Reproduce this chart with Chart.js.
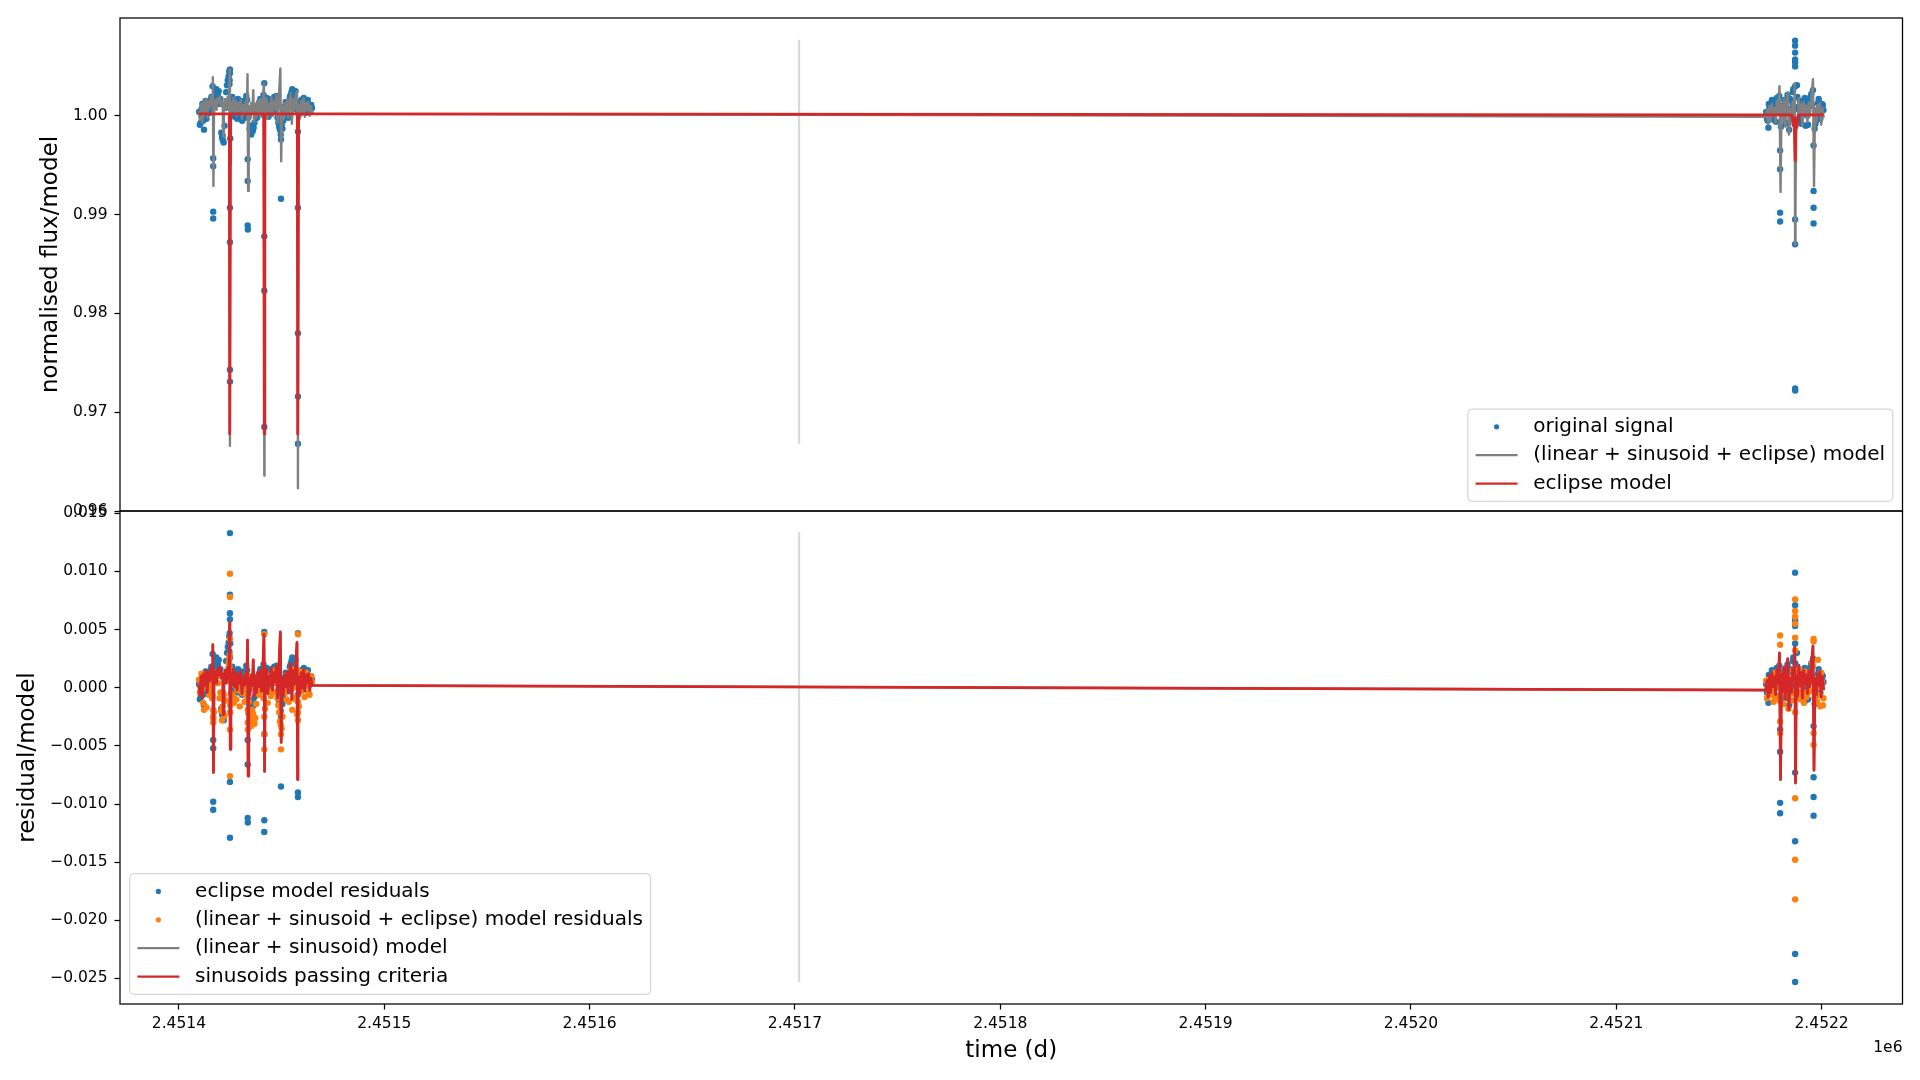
<!DOCTYPE html>
<html>
<head>
<meta charset="utf-8">
<script src="https://cdn.jsdelivr.net/npm/chart.js@4.4.1/dist/chart.umd.min.js"></script>
<style>
html, body { margin: 0; padding: 0; background: #fff; }
#wrap { position: relative; width: 1920px; height: 1080px; background: #fff; overflow: hidden; }
canvas { position: absolute; left: 0; }
#cTop { top: 0; }
#cBot { top: 480px; }
</style>
</head>
<body>
<div id="wrap">
  <canvas id="cBot" width="1920" height="600"></canvas>
  <canvas id="cTop" width="1920" height="540"></canvas>
</div>
<script>
// ---------------- DATA ----------------
// time origin (d); all time arrays below are days after T0
const T0 = 2451400;

// observation times (left cluster, left outliers, right cluster, right outliers, extra left, extra right)
const obsTime = [
  9.8, 10.6, 11.4, 12.2, 13.0, 13.8, 14.6, 15.4, 16.2, 17.0,
  17.8, 18.6, 19.4, 20.2, 21.0, 21.8, 22.6, 23.4, 24.2, 25.2,
  26.0, 26.8, 27.6, 28.4, 29.2, 30.0, 30.8, 31.6, 32.4, 33.2,
  34.0, 34.8, 35.6, 36.4, 37.2, 38.0, 38.8, 39.6, 40.4, 41.2,
  42.0, 42.8, 43.6, 44.4, 45.2, 46.0, 46.8, 47.6, 48.4, 49.2,
  50.0, 50.8, 51.6, 52.4, 53.2, 54.0, 54.8, 55.6, 56.4, 57.2,
  58.4, 59.2, 60.0, 60.8, 61.6, 62.4, 63.2, 64.0, 64.8,
  16.7, 16.7, 16.7, 16.7, 21.4, 24.6, 24.7, 24.84, 24.84, 24.84,
  24.84, 24.84, 24.84, 24.9, 25.0, 33.5, 33.5, 33.5, 33.55, 41.57,
  41.57, 41.57, 41.57, 49.7, 49.7, 57.96, 57.96, 57.96, 57.96, 57.96,
  773.0, 773.8, 774.6, 775.4, 776.2, 777.0, 777.8, 778.6, 779.4, 780.2,
  781.0, 781.8, 782.6, 783.4, 784.2, 785.0, 785.8, 786.6, 787.8, 788.6,
  789.4, 790.2, 791.0, 791.8, 792.6, 793.4, 794.2, 795.0, 795.8, 796.6,
  797.4, 798.2, 799.0, 799.8, 800.6,
  774.1, 779.8, 779.8, 779.8, 779.8, 786.0, 787.1, 787.1, 787.1, 787.1,
  787.1, 787.1, 787.1, 787.1, 787.1, 787.1, 787.15, 788.0, 792.2, 796.1,
  796.1, 796.1, 796.1,
  10.2, 11.0, 11.8, 12.6, 13.4, 14.2, 15.0, 15.8, 16.4, 17.4,
  18.2, 19.0, 19.8, 20.6, 21.3, 22.2, 23.0, 23.8, 24.5, 25.6,
  26.4, 27.2, 28.0, 28.8, 29.6, 30.4, 31.2, 32.0, 32.8, 33.8,
  34.4, 35.2, 36.0, 36.8, 37.6, 38.4, 39.2, 40.0, 40.8, 41.9,
  42.4, 43.2, 44.0, 44.8, 45.6, 46.4, 47.2, 48.0, 48.8, 49.6,
  50.4, 51.2, 52.0, 52.8, 53.6, 54.4, 55.2, 56.0, 56.8, 57.6,
  58.8, 59.6, 60.4, 61.2, 62.0, 62.8, 63.6, 64.4,
  773.4, 774.3, 775.0, 775.8, 776.6, 777.4, 778.2, 779.0, 780.6, 781.4,
  782.2, 783.0, 783.8, 784.6, 785.4, 786.2, 788.2, 789.0, 789.8, 790.6,
  791.4, 792.4, 793.0, 793.8, 794.6, 795.4, 797.0, 797.8, 798.6, 799.4,
  800.2, 800.9
];
// original signal (normalised flux)
const obsFlux = [
  1.0004, 0.9993, 1.0012, 0.9986, 1.0015, 1.0002, 1.0011, 1.0016, 1.0006, 1.0014,
  1.0022, 1.0019, 1.0025, 1.0017, 0.9978, 0.9973, 1.0008, 1.0031, 1.0040, 1.0012,
  1.0019, 1.0004, 1.0015, 0.9997, 1.0010, 1.0014, 0.9995, 1.0009, 1.0013, 1.0016,
  0.9999, 0.9990, 0.9984, 0.9988, 1.0006, 0.9998, 1.0012, 1.0017, 1.0003, 1.0021,
  1.0009, 1.0018, 0.9999, 1.0008, 1.0017, 1.0005, 1.0013, 1.0020, 0.9993, 0.9986,
  0.9991, 0.9995, 1.0010, 1.0004, 0.9998, 1.0019, 1.0024, 1.0016, 1.0022, 1.0014,
  1.0010, 1.0005, 1.0013, 1.0018, 1.0007, 1.0012, 1.0009, 1.0004, 1.0008,
  0.9957, 0.9949, 0.9903, 0.9896, 0.9975, 1.0032, 1.0036, 1.0047, 1.0043, 0.9907,
  0.9872, 0.9743, 0.9731, 1.0018, 0.9977, 0.9956, 0.9934, 0.9889, 0.9885, 1.0033,
  0.9878, 0.9823, 0.9685, 0.9976, 0.9916, 0.9984, 0.9907, 0.9780, 0.9716, 0.9668,
  1.0004, 0.9995, 1.0008, 0.9998, 1.0011, 1.0003, 0.9994, 1.0014, 1.0020, 0.9989,
  1.0006, 1.0016, 0.9993, 1.0021, 0.9986, 1.0007, 1.0013, 0.9996, 0.9994, 1.0009,
  1.0015, 0.9992, 1.0012, 1.0018, 1.0004, 0.9991, 1.0010, 1.0022, 1.0026, 0.9987,
  0.9995, 1.0013, 1.0008, 1.0003, 1.0011,
  0.9988, 0.9965, 0.9946, 0.9902, 0.9893, 1.0024, 1.0076, 1.0071, 1.0064, 1.0057,
  1.0054, 1.0050, 1.0030, 0.9895, 0.9870, 0.9724, 0.9722, 1.0031, 0.9990, 0.9970,
  0.9924, 0.9907, 0.9891,
  0.9991, 1.0007, 0.9995, 1.0009, 0.9997, 1.0014, 1.0003, 1.0019, 1.0030, 1.0018,
  1.0027, 1.0021, 1.0012, 0.9983, 0.9980, 0.9990, 1.0024, 1.0036, 1.0045, 1.0006,
  1.0013, 0.9999, 1.0008, 1.0017, 1.0001, 1.0007, 1.0015, 0.9998, 1.0020, 1.0004,
  0.9987, 0.9981, 0.9985, 0.9993, 1.0010, 1.0004, 1.0014, 1.0008, 1.0016, 1.0003,
  1.0013, 1.0006, 1.0015, 1.0002, 1.0011, 1.0019, 1.0008, 0.9998, 0.9989, 0.9981,
  0.9987, 1.0003, 1.0014, 1.0001, 1.0012, 1.0021, 1.0027, 1.0018, 1.0025, 1.0006,
  1.0002, 1.0016, 1.0009, 1.0013, 1.0003, 1.0016, 1.0006, 1.0011,
  0.9997, 1.0012, 1.0001, 1.0016, 0.9996, 1.0009, 1.0018, 1.0005, 1.0010, 0.9999,
  1.0012, 1.0007, 0.9992, 1.0017, 1.0002, 1.0027, 1.0019, 1.0006, 0.9997, 1.0014,
  1.0003, 1.0016, 1.0000, 1.0013, 1.0019, 1.0011, 0.9992, 1.0006, 1.0017, 0.9997,
  1.0012, 1.0006
];
// eclipse model residuals
const eclipseResid = [
  0.0003, -0.0008, 0.0011, -0.0015, 0.0014, 0.0001, 0.0010, 0.0015, 0.0005, 0.0013,
  0.0021, 0.0018, 0.0024, 0.0016, -0.0023, -0.0028, 0.0007, 0.0030, 0.0039, 0.0010,
  0.0018, 0.0003, 0.0014, -0.0004, 0.0009, 0.0013, -0.0006, 0.0008, 0.0012, 0.0015,
  -0.0002, -0.0011, -0.0017, -0.0013, 0.0005, -0.0003, 0.0011, 0.0016, 0.0002, 0.0020,
  0.0008, 0.0017, -0.0002, 0.0007, 0.0016, 0.0004, 0.0012, 0.0019, -0.0008, -0.0015,
  -0.0010, -0.0006, 0.0009, 0.0003, -0.0003, 0.0018, 0.0023, 0.0015, 0.0021, 0.0013,
  0.0009, 0.0004, 0.0012, 0.0017, 0.0006, 0.0011, 0.0008, 0.0003, 0.0007,
  -0.0045, -0.0052, -0.0098, -0.0105, -0.0027, 0.0031, 0.0047, 0.0133, 0.0080, 0.0064,
  0.0059, -0.0081, -0.0129, 0.0026, 0.0038, -0.0045, -0.0066, -0.0112, -0.0116, 0.0048,
  -0.0114, -0.0124, -0.0040, -0.0025, -0.0085, 0.0047, -0.0090, -0.0094, 0.0012, -0.0006,
  0.0003, -0.0006, 0.0007, -0.0003, 0.0010, 0.0002, -0.0007, 0.0013, 0.0019, -0.0012,
  0.0005, 0.0015, -0.0008, 0.0020, -0.0015, 0.0006, 0.0012, 0.0011, 0.0004, 0.0008,
  0.0014, -0.0009, 0.0011, 0.0017, 0.0003, -0.0010, 0.0009, 0.0021, 0.0025, -0.0014,
  -0.0006, 0.0012, 0.0007, 0.0002, 0.0010,
  -0.0013, -0.0036, -0.0055, -0.0099, -0.0108, 0.0023, 0.0099, 0.0071, 0.0056, 0.0053,
  0.0058, -0.0073, 0.0038, -0.0132, -0.0229, -0.0253, 0.0021, 0.0030, -0.0011, -0.0033,
  -0.0077, -0.0094, -0.0110,
  -0.0010, 0.0006, -0.0006, 0.0008, -0.0004, 0.0013, 0.0002, 0.0018, 0.0029, 0.0017,
  0.0026, 0.0020, 0.0011, -0.0018, -0.0021, -0.0011, 0.0023, 0.0035, 0.0044, 0.0005,
  0.0012, -0.0002, 0.0007, 0.0016, 0.0000, 0.0006, 0.0014, -0.0003, 0.0019, 0.0003,
  -0.0014, -0.0020, -0.0016, -0.0008, 0.0009, 0.0003, 0.0013, 0.0007, 0.0015, 0.0002,
  0.0012, 0.0005, 0.0014, 0.0001, 0.0010, 0.0018, 0.0007, -0.0003, -0.0012, -0.0020,
  -0.0014, 0.0002, 0.0013, 0.0000, 0.0011, 0.0020, 0.0026, 0.0017, 0.0024, 0.0005,
  0.0001, 0.0015, 0.0008, 0.0012, 0.0002, 0.0015, 0.0005, 0.0010,
  -0.0004, 0.0011, 0.0000, 0.0015, -0.0005, 0.0008, 0.0017, 0.0004, 0.0009, -0.0002,
  0.0011, 0.0006, -0.0009, 0.0016, 0.0001, 0.0026, 0.0018, 0.0005, -0.0004, 0.0013,
  0.0002, 0.0015, -0.0001, 0.0012, 0.0018, 0.0010, -0.0009, 0.0005, 0.0016, -0.0004,
  0.0011, 0.0005
];
// (linear + sinusoid + eclipse) model residuals
const fullResid = [
  0.0007, 0.0002, -0.0001, -0.0019, 0.0003, 0.0008, -0.0006, -0.0002, -0.0009, -0.0021,
  0.0006, 0.0012, 0.0010, -0.0004, -0.0028, -0.0006, -0.0011, 0.0014, 0.0021, -0.0005,
  0.0006, -0.0013, 0.0002, -0.0002, 0.0005, -0.0003, 0.0001, 0.0002, 0.0000, 0.0011,
  -0.0012, -0.0024, -0.0019, -0.0030, -0.0026, 0.0001, -0.0004, 0.0001, 0.0005, -0.0009,
  0.0002, 0.0004, 0.0010, 0.0005, -0.0003, 0.0006, 0.0007, 0.0004, -0.0015, -0.0029,
  -0.0035, 0.0000, -0.0002, -0.0010, 0.0001, 0.0003, 0.0016, 0.0000, 0.0012, -0.0008,
  -0.0016, 0.0009, 0.0012, 0.0001, 0.0009, 0.0007, -0.0004, 0.0006, 0.0005,
  -0.0019, -0.0025, -0.0030, -0.0026, -0.0004, 0.0018, 0.0028, 0.0098, 0.0078, 0.0042,
  -0.0036, -0.0076, 0.0015, -0.0021, -0.0015, -0.0008, -0.0019, -0.0030, -0.0036, 0.0046,
  -0.0025, -0.0053, -0.0040, -0.0040, -0.0053, 0.0046, -0.0021, -0.0012, -0.0028, 0.0008,
  0.0006, 0.0002, -0.0004, 0.0001, -0.0003, -0.0007, 0.0000, 0.0009, -0.0011, 0.0006,
  0.0008, -0.0003, 0.0002, -0.0005, 0.0004, -0.0002, -0.0005, 0.0010, -0.0006, 0.0011,
  -0.0004, 0.0002, 0.0007, 0.0014, -0.0008, 0.0003, 0.0008, 0.0005, 0.0018, -0.0009,
  0.0000, 0.0024, -0.0006, 0.0013, -0.0015,
  -0.0006, 0.0045, 0.0037, -0.0029, -0.0039, 0.0009, 0.0076, 0.0066, 0.0043, 0.0061,
  0.0055, 0.0032, -0.0095, -0.0148, -0.0182, 0.0012, -0.0021, 0.0013, -0.0004, 0.0042,
  0.0040, -0.0039, -0.0049,
  -0.0004, 0.0012, -0.0013, 0.0005, -0.0017, 0.0001, -0.0004, 0.0003, -0.0007, 0.0008,
  0.0013, 0.0004, -0.0009, -0.0020, -0.0016, -0.0024, 0.0007, 0.0016, 0.0025, -0.0011,
  -0.0007, 0.0009, -0.0010, 0.0004, -0.0016, 0.0007, -0.0005, -0.0012, 0.0006, -0.0022,
  -0.0027, -0.0033, -0.0022, -0.0031, -0.0014, 0.0010, -0.0006, 0.0013, -0.0002, -0.0018,
  0.0009, -0.0013, 0.0003, -0.0007, 0.0012, -0.0004, 0.0015, -0.0009, -0.0021, -0.0032,
  -0.0025, 0.0006, -0.0004, 0.0011, -0.0012, 0.0008, -0.0019, 0.0005, -0.0010, -0.0023,
  0.0014, -0.0003, 0.0007, -0.0008, 0.0013, 0.0002, -0.0006, 0.0010,
  -0.0009, 0.0007, -0.0006, 0.0005, -0.0012, 0.0013, 0.0002, -0.0008, -0.0004, -0.0014,
  0.0010, -0.0007, -0.0018, 0.0009, -0.0011, 0.0015, -0.0008, 0.0016, -0.0010, 0.0004,
  -0.0013, 0.0008, -0.0005, 0.0011, -0.0003, 0.0021, 0.0006, -0.0012, 0.0007, -0.0016,
  0.0005, -0.0009
];

// model curve times
const modelTime = [
  9.6, 10.2, 10.8, 11.4, 12.0, 12.6, 13.2, 13.8, 14.4, 15.0,
  15.6, 16.2, 16.5, 16.8, 17.1, 17.7, 18.3, 18.9, 19.5, 20.1,
  20.7, 21.3, 21.6, 21.9, 22.5, 23.1, 23.7, 24.3, 24.7, 24.84,
  25.0, 25.3, 25.9, 26.5, 27.1, 27.7, 28.3, 28.9, 29.5, 30.1,
  30.7, 31.3, 31.9, 32.5, 33.1, 33.4, 33.7, 34.0, 34.6, 35.2,
  35.8, 36.2, 36.6, 37.2, 37.8, 38.4, 39.0, 39.6, 40.2, 40.8,
  41.4, 41.57, 41.7, 42.0, 42.6, 43.2, 43.8, 44.4, 45.0, 45.6,
  46.2, 46.8, 47.4, 48.0, 48.6, 49.4, 49.8, 50.2, 50.8, 51.4,
  52.0, 52.6, 53.2, 53.8, 54.4, 55.0, 55.6, 56.2, 56.8, 57.5,
  57.8, 57.96, 58.3, 58.9, 59.5, 60.1, 60.7, 61.3, 61.9, 62.5,
  63.1, 63.7, 64.3, 64.9,
  772.8, 773.4, 774.0, 774.6, 775.2, 775.8, 776.4, 777.0, 777.6, 778.2,
  778.8, 779.5, 780.0, 780.5, 781.1, 781.7, 782.3, 782.9, 783.5, 784.1,
  784.7, 785.3, 785.9, 786.5, 786.9, 787.1, 787.3, 787.7, 788.3, 788.9,
  789.5, 790.1, 790.7, 791.3, 791.9, 792.5, 793.1, 793.7, 794.3, 794.9,
  795.8, 796.3, 796.8, 797.4, 798.0, 798.6, 799.2, 799.8, 800.4, 801.0
];
// (linear + sinusoid + eclipse) model, top panel
const fullModel = [
  1.0005, 0.9996, 1.0012, 0.9993, 1.0014, 1.0004, 1.0017, 0.9998, 1.0015, 1.0008,
  1.0020, 1.0011, 1.0039, 0.9929, 1.0012, 1.0016, 1.0006, 1.0018, 1.0013, 1.0020,
  1.0010, 1.0014, 0.9979, 1.0008, 1.0017, 1.0006, 1.0019, 1.0011, 1.0047, 0.9666,
  0.9951, 1.0014, 1.0005, 1.0018, 1.0003, 1.0015, 1.0000, 1.0013, 1.0006, 1.0016,
  0.9997, 1.0011, 1.0004, 1.0014, 1.0006, 1.0042, 0.9924, 1.0010, 0.9996, 1.0013,
  1.0004, 1.0026, 0.9994, 1.0012, 0.9998, 1.0015, 1.0003, 1.0017, 0.9999, 1.0014,
  1.0033, 0.9636, 0.9930, 1.0008, 1.0018, 0.9997, 1.0012, 1.0004, 1.0019, 1.0000,
  1.0015, 1.0007, 1.0021, 0.9993, 1.0016, 1.0048, 0.9954, 1.0010, 0.9996, 1.0013,
  1.0003, 1.0016, 0.9998, 1.0014, 1.0023, 0.9992, 1.0017, 1.0005, 1.0020, 1.0025,
  0.9924, 0.9623, 1.0011, 0.9997, 1.0015, 1.0002, 1.0018, 0.9999, 1.0013, 1.0006,
  1.0014, 1.0000, 1.0010, 1.0002,
  0.9999, 1.0006, 0.9991, 1.0010, 0.9995, 1.0012, 1.0000, 1.0008, 0.9993, 1.0015,
  1.0003, 1.0030, 0.9923, 1.0011, 0.9996, 1.0017, 0.9989, 1.0013, 1.0024, 0.9981,
  1.0007, 0.9995, 1.0014, 0.9992, 1.0033, 0.9870, 0.9920, 0.9998, 0.9990, 1.0018,
  1.0001, 1.0012, 0.9990, 1.0014, 1.0002, 1.0010, 0.9994, 1.0013, 1.0000, 1.0016,
  1.0037, 0.9929, 1.0007, 0.9993, 1.0011, 1.0001, 1.0013, 0.9991, 1.0008, 0.9998
];
// sinusoid model (linear + sinusoid; all sinusoids pass the criteria), bottom panel
const sinusoidModel = [
  0.0003, -0.0006, 0.0010, -0.0009, 0.0012, 0.0002, 0.0015, -0.0004, 0.0013, 0.0006,
  0.0018, 0.0009, 0.0037, -0.0073, 0.0010, 0.0014, 0.0004, 0.0016, 0.0011, 0.0018,
  0.0008, 0.0012, -0.0023, 0.0006, 0.0015, 0.0004, 0.0017, 0.0009, 0.0056, -0.0012,
  -0.0053, 0.0012, 0.0003, 0.0016, 0.0001, 0.0013, -0.0002, 0.0011, 0.0004, 0.0014,
  -0.0005, 0.0009, 0.0002, 0.0012, 0.0004, 0.0041, -0.0076, 0.0008, -0.0006, 0.0011,
  0.0002, 0.0024, -0.0008, 0.0010, -0.0004, 0.0013, 0.0001, 0.0015, -0.0003, 0.0012,
  0.0046, 0.0010, -0.0072, 0.0006, 0.0016, -0.0005, 0.0010, 0.0002, 0.0017, -0.0002,
  0.0013, 0.0005, 0.0019, -0.0009, 0.0014, 0.0048, -0.0047, 0.0008, -0.0006, 0.0011,
  0.0001, 0.0014, -0.0004, 0.0012, 0.0021, -0.0010, 0.0015, 0.0003, 0.0018, 0.0039,
  -0.0079, 0.0005, 0.0009, -0.0005, 0.0013, 0.0000, 0.0016, -0.0003, 0.0011, 0.0004,
  0.0012, -0.0002, 0.0008, 0.0002,
  -0.0002, 0.0006, -0.0008, 0.0011, -0.0004, 0.0013, 0.0001, 0.0009, -0.0006, 0.0016,
  0.0004, 0.0030, -0.0079, 0.0012, -0.0003, 0.0018, -0.0010, 0.0014, 0.0025, -0.0019,
  0.0008, -0.0004, 0.0017, 0.0006, 0.0035, -0.0010, -0.0082, 0.0010, -0.0007, 0.0019,
  0.0002, 0.0013, -0.0009, 0.0015, 0.0003, 0.0011, -0.0005, 0.0014, 0.0001, 0.0017,
  0.0036, -0.0071, 0.0008, -0.0006, 0.0012, 0.0002, 0.0014, -0.0008, 0.0009, -0.0002
];

// eclipse model
const eclipseTime = [
  9.6, 24.54, 24.62, 24.84, 25.06, 25.14, 41.27, 41.35, 41.57, 41.79,
  41.87, 57.66, 57.74, 57.96, 58.18, 58.26, 64.9, 772.8, 785.5, 786.3,
  786.6, 786.9, 787.1, 787.3, 787.6, 787.9, 788.7, 801.0
];
const eclipseModel = [
  1.0002, 1.0002, 0.9958, 0.9678, 0.9958, 1.0002, 1.0002, 0.9958, 0.9678, 0.9958,
  1.0002, 1.0002, 0.9958, 0.9678, 0.9958, 1.0002, 1.0002, 1.0001, 1.0001, 0.9990,
  0.9998, 0.9972, 0.9955, 0.9975, 0.9996, 0.9988, 1.0001, 1.0001
];

// light grey vertical marker between the two observing seasons
const markerTime = 302;
const markerTopRange = [0.9668, 1.0077];
const markerBottomRange = [-0.0253, 0.0134];

// axes
const xRange = [2451371.3, 2452239.4];
const xTicks = [2451400, 2451500, 2451600, 2451700, 2451800, 2451900, 2452000, 2452100, 2452200];
const topYRange = [0.9600, 1.0099];
const topYTicks = [0.96, 0.97, 0.98, 0.99, 1.00];
const bottomYRange = [-0.0272, 0.0152];
const bottomYTicks = [-0.025, -0.020, -0.015, -0.010, -0.005, 0.000, 0.005, 0.010, 0.015];

// ---------------- CHART ----------------
const FONT = "'DejaVu Sans', sans-serif";
Chart.defaults.font.family = FONT;
Chart.defaults.color = '#000';

const BLUE = '#1f77b4', ORANGE = '#ff7f0e', GREY = '#808080', RED = '#d62728', LIGHT = '#dadada';

function pts(ts, vs) { return ts.map((t, i) => ({ x: T0 + t, y: vs[i] })); }
function vline(range) { return [{ x: T0 + markerTime, y: range[0] }, { x: T0 + markerTime, y: range[1] }]; }

function lineDs(label, data, color, width, order) {
  return { label, data, showLine: true, borderColor: color, backgroundColor: color, borderWidth: width,
    pointRadius: 0, pointHoverRadius: 0, borderJoinStyle: 'round', borderCapStyle: 'butt', fill: false, tension: 0, order };
}
function dotDs(label, data, color, order) {
  return { label, data, showLine: false, pointRadius: 3.2, pointHoverRadius: 3.2, pointBackgroundColor: color,
    pointBorderWidth: 0, backgroundColor: color, borderColor: color, borderWidth: 0, order };
}

const tickGrid = { display: true, drawOnChartArea: false, drawTicks: true, tickLength: 5.5, tickWidth: 1.25, tickColor: '#000' };

function yAxis(range, ticks, fmt, title, titlePad) {
  return {
    type: 'linear', position: 'left', min: range[0], max: range[1],
    afterBuildTicks: s => { s.ticks = ticks.map(v => ({ value: v })); },
    afterFit: s => { s.width = 120; },
    ticks: { callback: fmt, font: { size: 15.5 }, padding: 7, color: '#000' },
    grid: tickGrid,
    border: { display: false },
    title: { display: true, text: title, font: { size: 23 }, color: '#000', padding: { top: titlePad, bottom: 0 } }
  };
}
function xAxis(show) {
  return {
    type: 'linear', position: 'bottom', min: xRange[0], max: xRange[1], display: show,
    afterBuildTicks: s => { s.ticks = xTicks.map(v => ({ value: v })); },
    afterFit: s => { s.height = show ? 76 : 0; },
    ticks: { callback: v => (v / 1e6).toFixed(4), font: { size: 15.5 }, padding: 5, maxRotation: 0, minRotation: 0, autoSkip: false, color: '#000' },
    grid: tickGrid,
    border: { display: false },
    title: { display: show, text: 'time (d)', font: { size: 23 }, color: '#000', padding: { top: 0, bottom: 15 } }
  };
}

function drawLegend(ctx, a, items, pos) {
  const fs = 20, pad = 7.7, rowH = 28.4, first = 17.7, handleW = 42, textOff = 65.4;
  ctx.save();
  ctx.font = fs + "px 'DejaVu Sans'";
  let tw = 0;
  items.forEach(it => { tw = Math.max(tw, ctx.measureText(it.text).width); });
  const w = textOff + tw + pad, h = 2 * first + (items.length - 1) * rowH;
  const left = pos === 'lower right' ? a.right - 9.7 - w : a.left + 9.7;
  const top = a.bottom - 9.7 - h;
  const r = 3.9;
  ctx.beginPath();
  ctx.moveTo(left + r, top);
  ctx.lineTo(left + w - r, top); ctx.arcTo(left + w, top, left + w, top + r, r);
  ctx.lineTo(left + w, top + h - r); ctx.arcTo(left + w, top + h, left + w - r, top + h, r);
  ctx.lineTo(left + r, top + h); ctx.arcTo(left, top + h, left, top + h - r, r);
  ctx.lineTo(left, top + r); ctx.arcTo(left, top, left + r, top, r);
  ctx.closePath();
  ctx.fillStyle = 'rgba(255,255,255,0.8)'; ctx.fill();
  ctx.strokeStyle = '#cccccc'; ctx.lineWidth = 1; ctx.stroke();
  items.forEach((it, i) => {
    const cy = top + first + i * rowH;
    if (it.kind === 'dot') {
      ctx.beginPath(); ctx.arc(left + pad + handleW / 2, cy, 2.6, 0, Math.PI * 2);
      ctx.fillStyle = it.color; ctx.fill();
    } else {
      ctx.beginPath(); ctx.moveTo(left + pad, cy); ctx.lineTo(left + pad + handleW, cy);
      ctx.strokeStyle = it.color; ctx.lineWidth = 2.2; ctx.stroke();
    }
    ctx.fillStyle = '#000'; ctx.textAlign = 'left'; ctx.textBaseline = 'middle';
    ctx.fillText(it.text, left + textOff, cy);
  });
  ctx.restore();
}

function framePlugin(items, pos, extra) {
  return {
    id: 'frame',
    afterDraw(chart) {
      const ctx = chart.ctx, a = chart.chartArea;
      drawLegend(ctx, a, items, pos);
      ctx.save();
      ctx.strokeStyle = '#000'; ctx.lineWidth = 1.25;
      ctx.strokeRect(a.left, a.top, a.right - a.left, a.bottom - a.top);
      ctx.restore();
      if (extra) extra(ctx, a);
    }
  };
}

const baseOpts = {
  responsive: false, animation: false, devicePixelRatio: 1, events: [],
  plugins: { legend: { display: false }, tooltip: { enabled: false } }
};

// top panel
new Chart(document.getElementById('cTop'), {
  type: 'scatter',
  data: { datasets: [
    lineDs('eclipse model', pts(eclipseTime, eclipseModel), RED, 2.8, 0),
    lineDs('(linear + sinusoid + eclipse) model', pts(modelTime, fullModel), GREY, 2.4, 1),
    dotDs('original signal', pts(obsTime, obsFlux), BLUE, 2),
    lineDs('marker', vline(markerTopRange), LIGHT, 2.3, 4)
  ] },
  options: Object.assign({}, baseOpts, {
    layout: { padding: { left: 0, top: 18, right: 17.5, bottom: 29 }, autoPadding: false },
    scales: {
      x: xAxis(false),
      y: yAxis(topYRange, topYTicks, v => v.toFixed(2), 'normalised flux/model', 37.2)
    }
  }),
  plugins: [framePlugin([
    { kind: 'dot', color: BLUE, text: 'original signal' },
    { kind: 'line', color: GREY, text: '(linear + sinusoid + eclipse) model' },
    { kind: 'line', color: RED, text: 'eclipse model' }
  ], 'lower right')]
});

// bottom panel
new Chart(document.getElementById('cBot'), {
  type: 'scatter',
  data: { datasets: [
    lineDs('sinusoids passing criteria', pts(modelTime, sinusoidModel), RED, 2.8, 0),
    lineDs('(linear + sinusoid) model', pts(modelTime, sinusoidModel), GREY, 2.4, 1),
    dotDs('(linear + sinusoid + eclipse) model residuals', pts(obsTime, fullResid), ORANGE, 2),
    dotDs('eclipse model residuals', pts(obsTime, eclipseResid), BLUE, 3),
    lineDs('marker', vline(markerBottomRange), LIGHT, 2.3, 4)
  ] },
  options: Object.assign({}, baseOpts, {
    layout: { padding: { left: 0, top: 31, right: 17.5, bottom: 0 }, autoPadding: false },
    scales: {
      x: xAxis(true),
      y: yAxis(bottomYRange, bottomYTicks, v => (v < -1e-9 ? '\u2212' : '') + Math.abs(v).toFixed(3), 'residual/model', 14.2)
    }
  }),
  plugins: [framePlugin([
    { kind: 'dot', color: BLUE, text: 'eclipse model residuals' },
    { kind: 'dot', color: ORANGE, text: '(linear + sinusoid + eclipse) model residuals' },
    { kind: 'line', color: GREY, text: '(linear + sinusoid) model' },
    { kind: 'line', color: RED, text: 'sinusoids passing criteria' }
  ], 'lower left', (ctx, a) => {
    ctx.save();
    ctx.font = "15.5px 'DejaVu Sans'";
    ctx.fillStyle = '#000'; ctx.textAlign = 'right'; ctx.textBaseline = 'middle';
    ctx.fillText('1e6', a.right, 1048 - 480);
    ctx.restore();
  })]
});
</script>
</body>
</html>
